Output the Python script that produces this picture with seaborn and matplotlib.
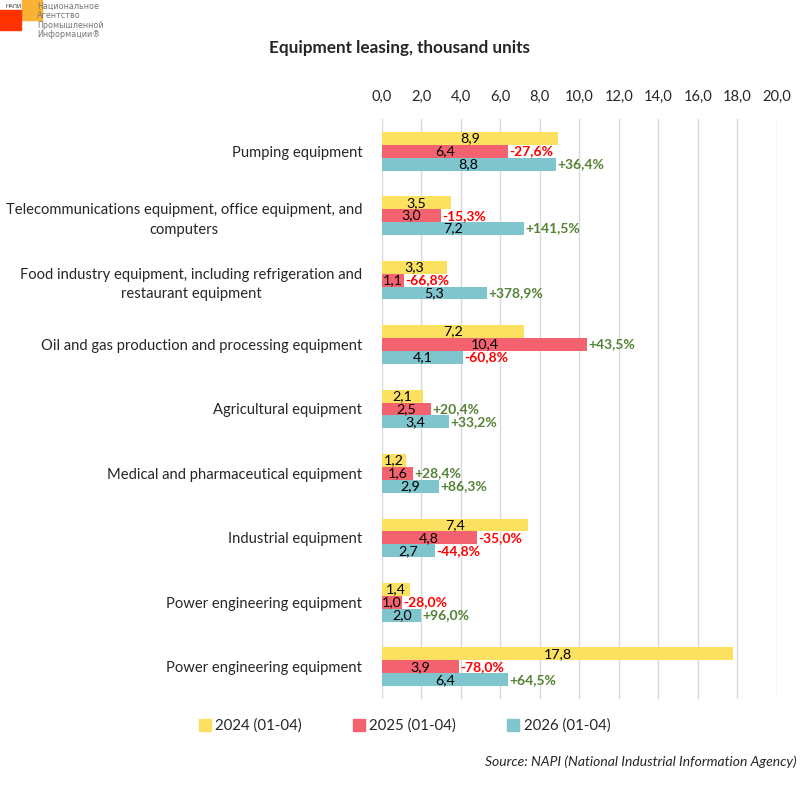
import matplotlib.pyplot as plt
from matplotlib.lines import Line2D
from matplotlib.patches import Rectangle
import pandas as pd
import seaborn as sns

categories = [
    "Pumping equipment",
    "Telecommunications equipment, office equipment, and\ncomputers",
    "Food industry equipment, including refrigeration and\nrestaurant equipment",
    "Oil and gas production and processing equipment",
    "Agricultural equipment",
    "Medical and pharmaceutical equipment",
    "Industrial equipment",
    "Power engineering equipment",
    "Power engineering equipment",
]
periods = ["2024 (01-04)", "2025 (01-04)", "2026 (01-04)"]
v2024 = [8.9, 3.5, 3.3, 7.2, 2.1, 1.2, 7.4, 1.4, 17.8]
v2025 = [6.4, 3.0, 1.1, 10.4, 2.5, 1.6, 4.8, 1.0, 3.9]
v2026 = [8.8, 7.2, 5.3, 4.1, 3.4, 2.9, 2.7, 2.0, 6.4]
chg2025 = [-27.6, -15.3, -66.8, 43.5, 20.4, 28.4, -35.0, -28.0, -78.0]
chg2026 = [36.4, 141.5, 378.9, -60.8, 33.2, 86.3, -44.8, 96.0, 64.5]

colors = ["#FCE160", "#F5626F", "#7EC5CD"]
pos_color = "#548235"
neg_color = "#FF0000"

# long table, category index as key (two categories share a name)
rows = []
for per, vals in zip(periods, [v2024, v2025, v2026]):
    for i, v in enumerate(vals):
        rows.append({"cat": str(i), "period": per, "value": v})
df = pd.DataFrame(rows)

sns.set_style("white")
plt.rcParams["font.family"] = ["Lato", "DejaVu Sans"]

fig = plt.figure(figsize=(8.04, 7.93), dpi=100)
ax = fig.add_axes([0.475, 0.1185, 0.491, 0.7315])

sns.barplot(data=df, x="value", y="cat", hue="period", orient="h",
            order=[str(i) for i in range(len(categories))], hue_order=periods,
            palette=colors, width=0.6, saturation=1, ax=ax, legend=False,
            edgecolor="none")


def fmt(v):
    return f"{v:.1f}".replace(".", ",")


def fmt_pct(v):
    return f"{v:+.1f}%".replace(".", ",")


for cont, vals in zip(ax.containers, [v2024, v2025, v2026]):
    ax.bar_label(cont, labels=[fmt(v) for v in vals], label_type="center",
                 fontsize=10.3, color="black")

for cont, chg in zip(ax.containers[1:], [chg2025, chg2026]):
    texts = ax.bar_label(cont, labels=[fmt_pct(v) for v in chg], padding=1,
                         fontsize=10, fontweight="bold")
    for t, v in zip(texts, chg):
        t.set_color(pos_color if v > 0 else neg_color)

ax.set_xlim(0, 20)
ax.set_xticks(range(0, 21, 2))
ax.set_xticklabels([fmt(x) for x in range(0, 21, 2)], fontsize=10.5)
ax.xaxis.tick_top()
ax.tick_params(axis="x", length=0, pad=11)
ax.tick_params(axis="y", length=0, pad=14)
ax.set_yticks(range(len(categories)))
ax.set_yticklabels(categories, fontsize=10.6, multialignment="center",
                   linespacing=1.5)
ax.set_xlabel("")
ax.set_ylabel("")
ax.grid(axis="x", color="#D9D9D9", linewidth=1)
ax.set_axisbelow(True)
for s in ax.spines.values():
    s.set_visible(False)

fig.text(0.4975, 0.939, "Equipment leasing, thousand units", ha="center",
         va="center", fontsize=12.3, fontweight="bold")

handles = [Line2D([0], [0], marker="s", linestyle="none", markersize=8,
                  markerfacecolor=c, markeredgecolor=c) for c in colors]
fig.legend(handles, periods, loc="center", bbox_to_anchor=(0.503, 0.085),
           ncol=3, frameon=False, fontsize=10.8, handletextpad=0.3,
           columnspacing=3.4, handlelength=0.8)

fig.text(0.991, 0.039, "Source: NAPI (National Industrial Information Agency)",
         ha="right", va="center", fontsize=10, style="italic")

# logo
fig.patches.append(Rectangle((22 / 804, 1 - 20 / 793), 20 / 804, 20 / 793,
                             transform=fig.transFigure, color="#F9B233", zorder=0))
fig.patches.append(Rectangle((0, 1 - 30 / 793), 21 / 804, 20 / 793,
                             transform=fig.transFigure, color="#FF3300", zorder=1))
fig.text(6 / 804, 1 - 6 / 793, "НАПИ", fontsize=4, color="#333333",
         ha="left", va="center", family=["DejaVu Sans"])
fig.text(37 / 804, 1 - 2 / 793,
         "Национальное\nАгентство\nПромышленной\nИнформации®",
         fontsize=5.8, color="#777777", ha="left", va="top", linespacing=1.05,
         family=["DejaVu Sans Condensed", "DejaVu Sans"])

fig.savefig("out.png", dpi=100)
